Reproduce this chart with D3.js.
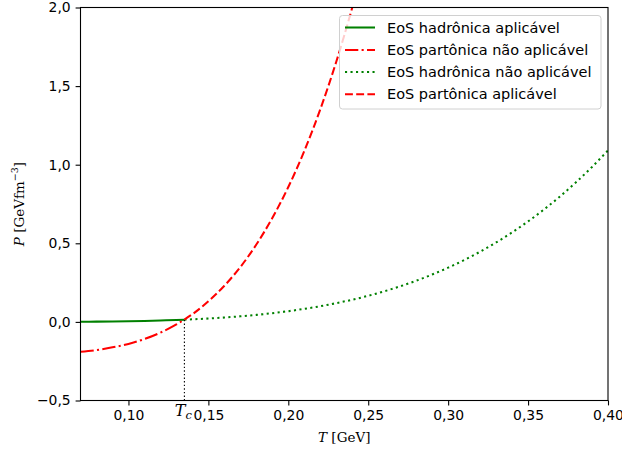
<!DOCTYPE html>
<html><head><meta charset="utf-8">
<script src="https://cdn.jsdelivr.net/npm/d3@7"></script>
<style>body{margin:0;background:#fff}svg{display:block}</style>
</head><body>
<script>
// Data
const hadApplicableT = [0.07,0.08,0.09,0.10,0.11,0.12,0.13,0.135];
const hadApplicableP = [0.0010,0.0017,0.0028,0.0043,0.0062,0.0088,0.0122,0.0142];
const hadNonT = [0.135,0.14,0.15,0.16,0.17,0.18,0.19,0.20,0.21,0.22,0.23,0.24,0.25,0.26,0.27,0.28,0.29,0.30,0.31,0.32,0.33,0.34,0.35,0.36,0.37,0.38,0.39,0.40];
const hadNonP = [0.0142,0.0164,0.0216,0.0279,0.0356,0.0447,0.0555,0.0682,0.0829,0.0998,0.1192,0.1413,0.1664,0.1947,0.2264,0.2618,0.3013,0.3451,0.3934,0.4467,0.5052,0.5693,0.6393,0.7155,0.7984,0.8883,0.9855,1.0906];
const partNonT = [0.07,0.08,0.09,0.10,0.11,0.12,0.13,0.135];
const partNonP = [-0.190,-0.179,-0.162,-0.140,-0.109,-0.068,-0.016,0.015];
const partAppT = [0.135,0.14,0.15,0.16,0.17,0.18,0.19,0.20,0.21,0.22,0.23,0.24,0.245];
const partAppP = [0.015,0.049,0.131,0.230,0.349,0.492,0.661,0.858,1.087,1.352,1.655,2.000,2.190];
const Tc = 0.135, PTc = 0.0142;
const xTicks = [0.10,0.15,0.20,0.25,0.30,0.35,0.40];
const yTicks = [-0.5,0.0,0.5,1.0,1.5,2.0];
const legendLabels = ["EoS hadrônica aplicável","EoS partônica não aplicável","EoS hadrônica não aplicável","EoS partônica aplicável"];

const W=622,H=453;
const L=80.5,R=608,T=7.5,B=400.5;
const svg=d3.select("body").append("svg").attr("width",W).attr("height",H);
const x=d3.scaleLinear().domain([0.07,0.40]).range([L,R]);
const y=d3.scaleLinear().domain([-0.5,2.0]).range([B,T]);
const fmt=d=>d3.format(".2f")(d).replace(".",",");
const fmtY=d=>d3.format(".1f")(d).replace(".",",").replace("-","\u2212");
const font="DejaVu Sans, sans-serif";

svg.append("defs").append("clipPath").attr("id","clip").append("rect")
  .attr("x",L).attr("y",T).attr("width",R-L).attr("height",B-T);

const g=svg.append("g").attr("clip-path","url(#clip)");
const line=d3.line().x(d=>x(d[0])).y(d=>y(d[1])).curve(d3.curveMonotoneX);
const zip=(a,b)=>a.map((v,i)=>[v,b[i]]);
const green="#008000", red="#ff0000";
const lw=2.05;
const dashes={solid:null,dashdot:"13.3,3.3,2.1,3.3",dotted:"2.1,3.4",dashed:"7.9,3.3"};

// Tc marker line
svg.append("line").attr("x1",x(Tc)).attr("x2",x(Tc)).attr("y1",B).attr("y2",y(PTc))
  .attr("stroke","#000").attr("stroke-width",1.1).attr("stroke-dasharray","1.4,2.2");

const series=[
  {d:zip(hadApplicableT,hadApplicableP),c:green,dash:dashes.solid},
  {d:zip(partNonT,partNonP),c:red,dash:dashes.dashdot},
  {d:zip(hadNonT,hadNonP),c:green,dash:dashes.dotted},
  {d:zip(partAppT,partAppP),c:red,dash:dashes.dashed}
];
series.forEach(s=>{
  g.append("path").attr("d",line(s.d)).attr("fill","none").attr("stroke",s.c)
   .attr("stroke-width",lw).attr("stroke-dasharray",s.dash);
});

// axes
const xa=svg.append("g").attr("transform",`translate(0,${B})`)
  .call(d3.axisBottom(x).tickValues(xTicks).tickFormat(fmt).tickSize(4.9).tickPadding(4.9));
const ya=svg.append("g").attr("transform",`translate(${L},0)`)
  .call(d3.axisLeft(y).tickValues(yTicks).tickFormat(fmtY).tickSize(4.9).tickPadding(4.9));
[xa,ya].forEach(a=>{
  a.select(".domain").remove();
  a.selectAll("line").attr("stroke","#000").attr("stroke-width",1.1);
  a.selectAll("text").attr("font-family",font).attr("font-size","13.9px").attr("fill","#000");
});
svg.append("rect").attr("x",L).attr("y",T).attr("width",R-L).attr("height",B-T)
  .attr("fill","none").attr("stroke","#000").attr("stroke-width",1.1);

// Labels
const serif="DejaVu Serif, serif";
const xl=svg.append("text").attr("x",(L+R)/2).attr("y",442).attr("text-anchor","middle")
  .attr("font-family",serif).attr("font-size","13.5px");
xl.append("tspan").attr("font-style","italic").text("T");
xl.append("tspan").text(" [GeV]");

const yl=svg.append("text").attr("transform",`translate(24,${(T+B)/2}) rotate(-90)`)
  .attr("text-anchor","middle").attr("font-family",serif).attr("font-size","13.5px");
yl.append("tspan").attr("font-style","italic").text("P");
yl.append("tspan").text(" [GeVfm");
yl.append("tspan").attr("font-size","9.5px").attr("dy","-6").text("\u22123");
yl.append("tspan").attr("dy","6").text("]");

const tcl=svg.append("text").attr("x",x(Tc)-1).attr("y",416).attr("text-anchor","middle")
  .attr("font-family",serif).attr("font-size","16px");
tcl.append("tspan").attr("font-style","italic").text("T");
tcl.append("tspan").attr("font-style","italic").attr("font-size","11.5px").attr("dy","3").text("c");

// Legend
const lg=svg.append("g");
lg.append("rect").attr("x",339.5).attr("y",15.5).attr("width",261.5).attr("height",93.5)
  .attr("rx",3).attr("fill","#fff").attr("fill-opacity",0.8)
  .attr("stroke","#d0d0d0").attr("stroke-width",1);
const rowY=[27.5,50,72,94.3];
series.forEach((s,i)=>{
  lg.append("line").attr("x1",345).attr("x2",375).attr("y1",rowY[i]).attr("y2",rowY[i])
    .attr("stroke",s.c).attr("stroke-width",lw).attr("stroke-dasharray",s.dash);
  lg.append("text").attr("x",387).attr("y",rowY[i]+5).attr("font-family",font)
    .attr("font-size","14.5px").attr("fill","#000").text(legendLabels[i]);
});
</script>
</body></html>
